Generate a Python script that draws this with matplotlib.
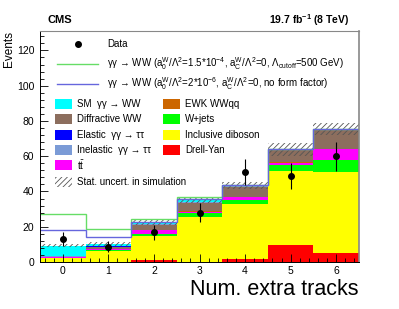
import numpy as np
import matplotlib
matplotlib.use("Agg")
import matplotlib.pyplot as plt
from matplotlib.patches import Rectangle
from matplotlib.lines import Line2D
from matplotlib.ticker import MultipleLocator

plt.rcParams['font.family'] = ['Liberation Sans', 'DejaVu Sans']
plt.rcParams['mathtext.fontset'] = 'custom'
plt.rcParams['mathtext.rm'] = 'Liberation Sans'
plt.rcParams['mathtext.it'] = 'Liberation Sans:italic'
plt.rcParams['mathtext.bf'] = 'Liberation Sans:bold'
plt.rcParams['hatch.linewidth'] = 0.6

# number of extra tracks (bins)
bins = [0, 1, 2, 3, 4, 5, 6]

# stacked backgrounds, bottom to top
drell_yan = [0.2, 0.0, 1.0, 0.0, 1.9, 9.7, 4.9]
incl_diboson = [2.2, 6.4, 14.0, 25.8, 30.9, 42.0, 46.4]
w_jets = [0.1, 0.4, 0.7, 1.8, 2.4, 3.3, 6.7]
ttbar = [0.1, 0.3, 2.5, 1.0, 1.5, 1.4, 6.0]
ewk_wwqq = [0.05, 0.05, 0.1, 0.1, 0.1, 0.2, 0.3]
diffractive_ww = [0.2, 1.3, 2.8, 5.0, 6.0, 7.0, 11.0]
inelastic_tautau = [0.3, 0.3, 0.3, 0.4, 0.1, 0.1, 0.0]
elastic_tautau = [0.4, 0.2, 0.2, 0.2, 0.05, 0.05, 0.0]
sm_aaww = [5.8, 1.3, 0.7, 0.8, 0.2, 0.1, 0.05]

stat_unc = [0.8, 1.1, 1.3, 1.5, 2.0, 3.5, 3.5]

# anomalous-coupling predictions (total)
aqgc_a0_ff = [27.0, 18.8, 24.5, 36.7, 43.8, 64.3, 75.5]
aqgc_a0_noff = [17.9, 14.0, 22.5, 35.8, 43.4, 64.0, 75.2]

data = [13.0, 8.7, 16.9, 28.0, 51.0, 49.0, 60.0]
data_err = [3.8, 3.0, 4.2, 5.5, 7.2, 7.4, 8.2]

components = [
    (drell_yan, '#ff0000', 'Drell-Yan'),
    (incl_diboson, '#ffff00', 'Inclusive diboson'),
    (w_jets, '#00ff00', 'W+jets'),
    (ttbar, '#ff00ff', r'$\mathrm{t\bar{t}}$'),
    (ewk_wwqq, '#cc6600', 'EWK WWqq'),
    (diffractive_ww, '#8c6e5e', 'Diffractive WW'),
    (inelastic_tautau, '#7b9bd6', 'Inelastic  γγ → ττ'),
    (elastic_tautau, '#0000ff', 'Elastic  γγ → ττ'),
    (sm_aaww, '#00ffff', 'SM  γγ → WW'),
]

fig = plt.figure(figsize=(3.99, 3.09), dpi=100)
ax = fig.add_axes([40 / 399, 1 - 262 / 309, 319 / 399, 231 / 309])

x = np.array(bins)
bottom = np.zeros(len(bins))
for vals, col, lab in components:
    ax.bar(x, vals, width=1.0, bottom=bottom, color=col, linewidth=0)
    bottom += np.array(vals)
total = bottom

err = np.array(stat_unc)
ax.bar(x, 2 * err, width=1.0, bottom=total - err, fill=False,
       hatch='//////', edgecolor='#555555', linewidth=0)

edges = np.arange(-0.5, 7.0, 1.0)
ax.stairs(aqgc_a0_ff, edges, color='#66dd66', linewidth=1.0, baseline=None)
ax.stairs(aqgc_a0_noff, edges, color='#6666dd', linewidth=1.0, baseline=None)

ax.errorbar(x, data, yerr=data_err, fmt='o', color='black', ms=4,
            elinewidth=0.8, capsize=0)

ax.set_xlim(-0.5, 6.5)
ax.set_ylim(0, 131)
ax.xaxis.set_major_locator(MultipleLocator(1))
ax.xaxis.set_minor_locator(MultipleLocator(0.2))
ax.yaxis.set_major_locator(MultipleLocator(20))
ax.yaxis.set_minor_locator(MultipleLocator(4))
ax.tick_params(which='both', direction='in', labelsize=7.5, width=0.6)
ax.tick_params(which='major', length=6)
ax.tick_params(which='minor', length=3)
ax.tick_params(axis='y', pad=4)
ax.tick_params(axis='x', pad=3)
for s in ['top', 'right']:
    ax.spines[s].set_color('#888888')
ax.spines['right'].set_linewidth(1.2)
for s in ['left', 'bottom']:
    ax.spines[s].set_linewidth(0.7)

fig.text(9 / 399, 1 - 31 / 309, 'Events', fontsize=8.5, rotation=90,
         ha='center', va='top')
fig.text(358 / 399, 1 - 295 / 309, 'Num. extra tracks', fontsize=15.5,
         ha='right', va='baseline')
fig.text(48 / 399, 1 - 20 / 309, 'CMS', fontsize=8, fontweight='bold',
         ha='left', va='center')
fig.text(349 / 399, 1 - 20 / 309, r'19.7 fb$^{\mathbf{-1}}$ (8 TeV)',
         fontsize=7.5, fontweight='bold', ha='right', va='center')

# legend, drawn by hand in axes fraction
def fy(py):
    return (262 - py) / 231

def fx(px):
    return (px - 40) / 319

tr = ax.transAxes
fs = 7
ax.plot([fx(78)], [fy(44)], 'o', color='black', ms=4, transform=tr)
ax.text(fx(107), fy(44), 'Data', fontsize=fs, va='center', transform=tr)
ax.add_line(Line2D([fx(57), fx(98)], [fy(64)] * 2, color='#66dd66', lw=1.0, transform=tr))
ax.text(fx(107), fy(64),
        r'γγ → WW (a$_0^\mathrm{W}$/Λ$^2$=1.5*10$^{-4}$, a$_\mathrm{C}^\mathrm{W}$/Λ$^2$=0, Λ$_\mathrm{cutoff}$=500 GeV)',
        fontsize=fs, va='center', transform=tr)
ax.add_line(Line2D([fx(57), fx(98)], [fy(84)] * 2, color='#6666dd', lw=1.0, transform=tr))
ax.text(fx(107), fy(84),
        r'γγ → WW (a$_0^\mathrm{W}$/Λ$^2$=2*10$^{-6}$, a$_\mathrm{C}^\mathrm{W}$/Λ$^2$=0, no form factor)',
        fontsize=fs, va='center', transform=tr)

col1 = ['SM  γγ → WW', 'Diffractive WW', 'Elastic  γγ → ττ', 'Inelastic  γγ → ττ',
        r'$\mathrm{t\bar{t}}$']
col2 = ['EWK WWqq', 'W+jets', 'Inclusive diboson', 'Drell-Yan']
rows = [104, 119, 135, 150, 165]
colmap = {lab: col for _, col, lab in components}
bw, bh = fx(72) - fx(55), 10 / 231
for lab, py in zip(col1, rows):
    ax.add_patch(Rectangle((fx(55), fy(py) - bh / 2), bw, bh, facecolor=colmap[lab],
                           edgecolor='none', transform=tr))
    ax.text(fx(77), fy(py), lab, fontsize=fs, va='center', transform=tr)
for lab, py in zip(col2, rows):
    ax.add_patch(Rectangle((fx(163), fy(py) - bh / 2), bw, bh, facecolor=colmap[lab],
                           edgecolor='none', transform=tr))
    ax.text(fx(185), fy(py), lab, fontsize=fs, va='center', transform=tr)
ax.add_patch(Rectangle((fx(55), fy(182) - bh / 2), bw, bh, fill=False, hatch='//////',
                       edgecolor='#555555', linewidth=0, transform=tr))
ax.text(fx(77), fy(182), 'Stat. uncert. in simulation', fontsize=fs, va='center',
        transform=tr)

fig.savefig('out.png', dpi=100)
